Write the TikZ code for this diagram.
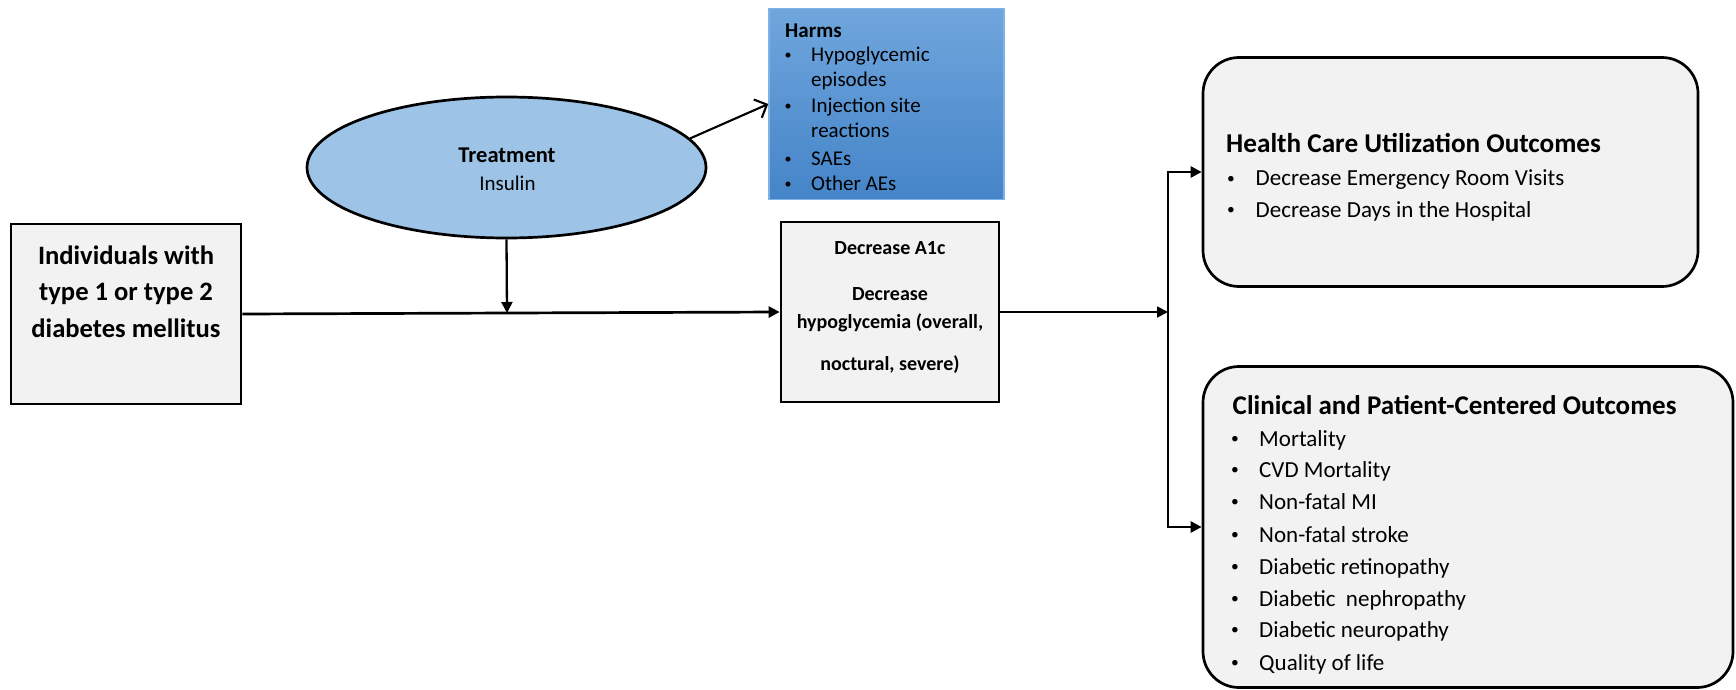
\documentclass[tikz,border=0pt]{standalone}
\usepackage{fontspec}
\setmainfont{Carlito}
\usetikzlibrary{shapes.geometric,arrows.meta}
\definecolor{boxgray}{HTML}{F2F2F2}
\definecolor{ellblue}{HTML}{9DC3E6}
\definecolor{harmtop}{HTML}{70A6DD}
\definecolor{harmbot}{HTML}{4484C8}
\definecolor{harmedge}{HTML}{7FB2E5}
\newcommand{\smbul}[2]{\raisebox{#2}{\fontsize{#1}{#1}\selectfont\textbullet}}
\begin{document}
\begin{tikzpicture}[x=1pt,y=-1pt,
  sqbox/.style={draw, line width=2.7pt, fill=boxgray, inner sep=0pt, rectangle},
  rbox/.style={draw, line width=2.7pt, fill=boxgray, inner sep=0pt, rectangle, rounded corners=36pt},
  lbl/.style={inner sep=0pt, anchor=base},
  lblw/.style={inner sep=0pt, anchor=base west},
  fb/.style={font=\fontsize{#1}{#1}\selectfont\bfseries},
  fr/.style={font=\fontsize{#1}{#1}\selectfont},
  tip/.style={-{Triangle[length=11pt,width=11pt]}},
  conn/.style={line width=2.7pt},
  thin/.style={line width=1.8pt}
]
\useasboundingbox (0,0) rectangle (1736,690);

% boxes
\node[sqbox, minimum width=230pt, minimum height=180pt] (ind) at (126,314) {};
\node[ellipse, draw, line width=2.7pt, fill=ellblue, inner sep=0pt,
      minimum width=399pt, minimum height=141pt] (treat) at (506.5,167.5) {};
\node[rectangle, draw=harmedge, line width=1.5pt, top color=harmtop, bottom color=harmbot,
      inner sep=0pt, minimum width=235pt, minimum height=191pt] (harms) at (886.5,104) {};
\node[sqbox, minimum width=218pt, minimum height=180pt] (dec) at (890,312) {};
\node[rbox, minimum width=495pt, minimum height=229pt] (hcu) at (1450.5,172) {};
\node[rbox, minimum width=530pt, minimum height=321pt] (cli) at (1468,527) {};

% Individuals text
\node[lbl, fb=26.6] (i1) at (126,264) {Individuals with};
\node[lbl, fb=26.6] (i2) at (126,300.5) {type 1 or type 2};
\node[lbl, fb=26.6] (i3) at (126,337) {diabetes mellitus};

% Treatment text
\node[lbl, fb=22.5] (t1) at (507,162.7) {Treatment};
\node[lbl, fr=21] (t2) at (507.5,190) {Insulin};

% Harms text
\node[lblw, fb=21] (h0) at (785,38) {Harms};
\foreach \n/\y/\t in {1/62/Hypoglycemic, 2/87/episodes, 3/113/Injection site, 4/138/reactions, 5/165/SAEs, 6/190/Other AEs}{
  \node[lblw, fr=21] (h\n) at (811,\y) {\t};
}
\foreach \n/\y in {1/62, 3/113, 5/165, 6/190}{
  \node[lbl] (hb\n) at (788,\y) {\smbul{14}{2pt}};
}

% Decrease text
\node[lbl, fb=20] (d1) at (890,254) {Decrease A1c};
\node[lbl, fb=20] (d2) at (890,300) {Decrease};
\node[lbl, fb=20] (d3) at (890,328) {hypoglycemia (overall,};
\node[lbl, fb=20] (d4) at (890,370) {noctural, severe)};

% HCU text
\node[lblw, fb=27.2] (u0) at (1226,152.5) {Health Care Utilization Outcomes};
\foreach \n/\y/\t in {1/185.5/Decrease Emergency Room Visits, 2/217/Decrease Days in the Hospital}{
  \node[lbl] (ub\n) at (1231,\y) {\smbul{15.5}{2.3pt}};
  \node[lblw, fr=23] (u\n) at (1255.5,\y) {\t};
}

% Clinical text
\node[lblw, fb=27] (c0) at (1232.5,414.5) {Clinical and Patient-Centered Outcomes};
\foreach \n/\y/\t in {1/446/Mortality, 2/477/CVD Mortality, 3/509/Non-fatal MI, 4/542/Non-fatal stroke,
  5/574/Diabetic retinopathy, 6/606/Diabetic\ \ nephropathy, 7/637/Diabetic neuropathy, 8/670/Quality of life}{
  \node[lbl] (cb\n) at (1235,\y) {\smbul{15.5}{2.3pt}};
  \node[lblw, fr=23] (c\n) at (1259,\y) {\t};
}

% connectors
\coordinate (j) at (507,313);
\coordinate (vtop) at (1168,172);
\coordinate (vbot) at (1168,527);
\draw[conn, tip] (ind.east) -- (dec.west);
\draw[line width=2.3pt, tip] (treat.south) -- (j);
\draw[line width=2.1pt, -{Straight Barb[length=10pt,width=20pt]}] (treat.9) -- (harms.west);
\draw[thin, tip] (dec.east) -- (dec.east -| vtop);
\draw[conn, {Triangle[length=11pt,width=11pt]}-{Triangle[length=11pt,width=11pt]}]
  (hcu.west) -- (vtop) -- (vbot) -- (cli.west);
\end{tikzpicture}
\end{document}
